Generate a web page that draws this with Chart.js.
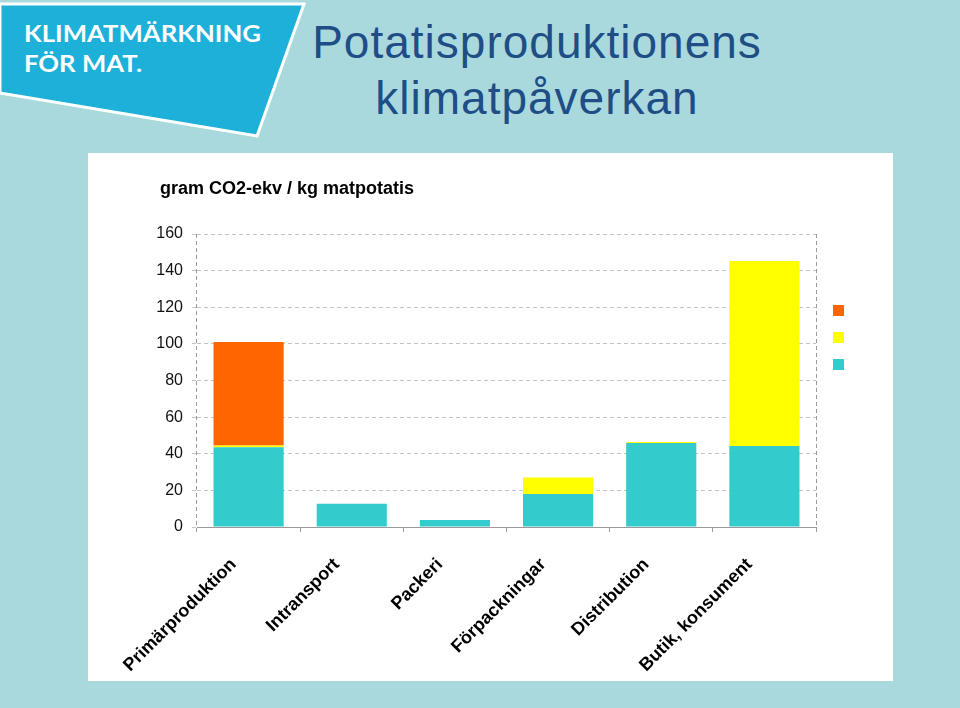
<!DOCTYPE html>
<html>
<head>
<meta charset="utf-8">
<script src="https://cdn.jsdelivr.net/npm/chart.js@4.4.1/dist/chart.umd.min.js"></script>
<style>
  html, body { margin: 0; padding: 0; }
  body { width: 960px; height: 708px; background: #a9d9dd; position: relative; overflow: hidden; font-family: "Liberation Sans", Arial, sans-serif; }
  #logo { position: absolute; left: 0; top: 0; }
  .title { position: absolute; left: 237px; width: 600px; text-align: center; color: #1f4d86; font-size: 46px; line-height: 56px; letter-spacing: 1px; white-space: nowrap; }
  #panel { position: absolute; left: 88px; top: 153px; width: 805px; height: 528px; background: #fff; }
  #unit { position: absolute; left: 72px; top: 25px; font-size: 18px; font-weight: bold; line-height: 20px; color: #000; }
  #wrap { position: absolute; left: 0; top: 0; width: 805px; height: 528px; }
</style>
</head>
<body>
<svg id="logo" width="320" height="145">
  <polygon points="0,4 304,4 257,136 0,93" fill="#1db0d9" stroke="#ffffff" stroke-width="3"/>
  <text x="24" y="42" fill="#fff" font-family="Lato, 'Open Sans', sans-serif" font-weight="bold" font-size="23" textLength="237" lengthAdjust="spacingAndGlyphs">KLIMATMÄRKNING</text>
  <text x="24" y="72" fill="#fff" font-family="Lato, 'Open Sans', sans-serif" font-weight="bold" font-size="23" textLength="118" lengthAdjust="spacingAndGlyphs">FÖR MAT.</text>
</svg>
<div class="title" style="top:14px">Potatisproduktionens</div>
<div class="title" style="top:70px">klimatpåverkan</div>
<div id="panel">
  <div id="wrap"><canvas id="myChart"></canvas></div>
  <div id="unit">gram CO2-ekv / kg matpotatis</div>
</div>
<script>
const categories = ['Primärproduktion', 'Intransport', 'Packeri', 'Förpackningar', 'Distribution', 'Butik, konsument'];
const tealValues = [43.5, 12.7, 3.8, 18, 45.9, 44.3];
const yellowValues = [1, 0, 0, 9, 0.5, 101];
const orangeValues = [56.5, 0, 0, 0, 0, 0];
const yTicks = [0, 20, 40, 60, 80, 100, 120, 140, 160];

// legend squares only, no text (top to bottom: orange, yellow, teal)
const squareLegend = {
    id: 'squareLegend',
    afterDraw(chart) {
        const ctx = chart.ctx;
        const area = chart.chartArea;
        const sets = chart.data.datasets.slice().reverse();
        sets.forEach((ds, i) => {
            ctx.fillStyle = ds.backgroundColor;
            ctx.fillRect(area.right + 17, area.top + 71 + i * 27, 11, 11);
        });
    }
};

const ctx = document.getElementById('myChart').getContext('2d');
const myChart = new Chart(ctx, {
    type: 'bar',
    data: {
        labels: categories,
        datasets: [
            { data: tealValues, backgroundColor: '#33cccc', borderWidth: 0 },
            { data: yellowValues, backgroundColor: '#ffff00', borderWidth: 0 },
            { data: orangeValues, backgroundColor: '#ff6600', borderWidth: 0 }
        ]
    },
    options: {
        responsive: true,
        maintainAspectRatio: false,
        animation: false,
        barPercentage: 0.68,
        categoryPercentage: 1,
        layout: { padding: { top: 81, right: 77, bottom: 0, left: 0 } },
        plugins: {
            legend: { display: false },
            tooltip: { enabled: false }
        },
        scales: {
            x: {
                stacked: true,
                afterFit(scale) { scale.height = 154; },
                grid: {
                    offset: true,
                    drawOnChartArea: true,
                    // only the two outer boundaries are drawn, as dashed frame lines
                    color: c => (c.index === 0 || c.index === undefined || c.index >= categories.length) ? '#9a9a9a' : 'rgba(0,0,0,0)',
                    tickColor: '#9a9a9a',
                    tickLength: 5,
                    tickBorderDash: []
                },
                border: { display: true, color: '#9a9a9a', width: 1, dash: [4, 3] },
                ticks: {
                    autoSkip: false,
                    maxRotation: 45,
                    minRotation: 45,
                    padding: 22,
                    labelOffset: -15,
                    color: '#000',
                    font: { family: 'Liberation Sans', size: 18, weight: 'bold' }
                }
            },
            y: {
                stacked: true,
                min: 0,
                max: 160,
                afterFit(scale) { scale.width = 109; },
                afterBuildTicks(scale) { scale.ticks = yTicks.map(v => ({ value: v })); },
                grid: {
                    color: c => c.index === 0 ? 'rgba(0,0,0,0)' : '#c4c4c4',
                    tickColor: '#c4c4c4',
                    tickLength: 5,
                    tickBorderDash: [4, 3]
                },
                border: { display: false, dash: [4, 3] },
                ticks: {
                    padding: 9,
                    color: '#111',
                    font: { family: 'Liberation Sans', size: 16 }
                }
            }
        }
    },
    plugins: [squareLegend]
});
</script>
</body>
</html>
